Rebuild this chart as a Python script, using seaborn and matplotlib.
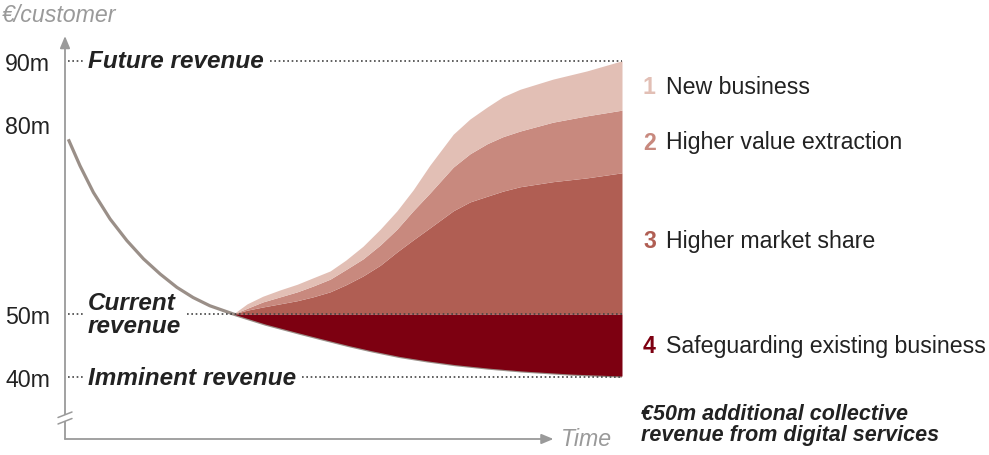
import numpy as np
import pandas as pd
import matplotlib
matplotlib.use("Agg")
import matplotlib.pyplot as plt
from matplotlib.lines import Line2D
from matplotlib.patches import Polygon
import seaborn as sns

# ---------------- data ----------------
# revenue per customer (m EUR) over time (0..100 arbitrary time units)
base_t = [0.6, 2.7, 5.1, 8.1, 11.1, 14.1, 17.1, 20.1, 23.0, 26.0, 30.2, 36, 42, 46, 51, 55, 60, 65, 70, 76, 82, 91, 100]
base_v = [77.6, 73.4, 69.2, 65.0, 61.6, 58.7, 56.3, 54.2, 52.6, 51.3, 50.0, 48.4, 47.0, 46.1, 45.0, 44.2,
          43.3, 42.6, 42.0, 41.45, 41.0, 40.5, 40.2]

# growth layers (cumulative tops, m EUR)
grow_t = [30.2, 32.7, 35.5, 38.6, 41.7, 44.5, 47.6, 50.4, 53.5, 56.6, 59.6, 62.5, 65.5, 69.7, 72.7,
          75.8, 78.6, 81.7, 87.6, 93.7, 100]
share_top = [50.0, 50.6, 51.1, 51.6, 52.1, 52.7, 53.5, 54.6, 56.0, 57.7, 59.8, 61.7, 63.6, 66.3, 67.7,
             68.6, 69.4, 70.1, 70.9, 71.5, 72.3]
value_top = [50.0, 50.9, 51.9, 52.7, 53.5, 54.4, 55.5, 57.0, 58.7, 60.9, 63.4, 66.3, 69.1, 73.2, 75.3,
             76.9, 78.0, 78.9, 80.3, 81.3, 82.2]
new_top = [50.0, 51.6, 52.8, 53.8, 54.7, 55.7, 56.8, 58.5, 60.7, 63.4, 66.3, 69.6, 73.5, 78.4, 80.8,
           82.7, 84.3, 85.5, 87.1, 88.4, 90.0]

current_revenue = 50
imminent_revenue = 40
future_revenue = 90

ytick_vals = [40, 50, 80, 90]
ytick_labels = ["40m", "50m", "80m", "90m"]

level_names = ["Future revenue", "Current\nrevenue", "Imminent revenue"]
level_vals = [future_revenue, current_revenue, imminent_revenue]

seg_nums = ["1", "2", "3", "4"]
seg_names = ["New business", "Higher value extraction", "Higher market share", "Safeguarding existing business"]

# ---------------- style ----------------
sns.set_theme(style="white")
plt.rcParams['font.family'] = ['Liberation Sans', 'DejaVu Sans']

C1, C2, C3, C4 = "#e2bfb5", "#c8897e", "#b05e53", "#7d0011"
seg_colors = [C1, C2, C3, C4]
CURVE = "#9a8f88"
AXIS = "#9a9a9a"
TXT = "#222222"

W, H = 989, 456
fig = plt.figure(figsize=(W / 100, H / 100), dpi=100)
ax = fig.add_axes([65 / W, 16 / H, 557 / W, 405 / H])
ax.set_xlim(0, 100)
ax.set_ylim(30.25, 94.23)
for s in ax.spines.values():
    s.set_visible(False)


def fx(px):
    return px / W


def fy(py):
    return 1 - py / H


# decay curve
df = pd.DataFrame({"t": base_t, "v": base_v})
sns.lineplot(data=df, x="t", y="v", ax=ax, color=CURVE, lw=2.3, zorder=1.5,
             solid_capstyle="butt", solid_joinstyle="round", sort=False)
ax.set_xlabel("")
ax.set_ylabel("")

# stacked layers
bt = np.array(base_t)
bv = np.array(base_v)
m = bt >= 30.2
ax.fill_between(bt[m], bv[m], current_revenue, color=C4, lw=0, zorder=2)
ax.fill_between(grow_t, current_revenue, share_top, color=C3, lw=0, zorder=2)
ax.fill_between(grow_t, share_top, value_top, color=C2, lw=0, zorder=2)
ax.fill_between(grow_t, value_top, new_top, color=C1, lw=0, zorder=2)

# level labels, then dotted reference lines around them
texts = []
for name, v in zip(level_names, level_vals):
    t = ax.text(4.1, v, name, fontsize=17.5, fontweight="bold", style="italic", color=TXT,
                va="center", ha="left", linespacing=0.95, zorder=4)
    texts.append(t)

fig.canvas.draw()
renderer = fig.canvas.get_renderer()
inv = ax.transData.inverted()
px_per_t = ax.transData.transform((1, 0))[0] - ax.transData.transform((0, 0))[0]
for t, v in zip(texts, level_vals):
    bb = t.get_window_extent(renderer)
    x0 = inv.transform((bb.x0, 0))[0] - 3 / px_per_t
    x1 = inv.transform((bb.x1, 0))[0] + 6 / px_per_t
    for a, b in [(0.5, x0), (x1, 100)]:
        ax.plot([a, b], [v, v], ls=(0, (1, 1.6)), color="#444444", lw=1.2, zorder=3)

# y ticks
ax.set_yticks(ytick_vals)
ax.set_yticklabels(ytick_labels, fontsize=16.7, color=TXT)
ax.set_xticks([])
ax.tick_params(axis="y", length=0, pad=10.8)
ax.grid(False)

# axes arrows
arrow = dict(arrowstyle="-|>,head_length=0.6,head_width=0.25", color=AXIS, lw=1.3,
             mutation_scale=12, shrinkA=0, shrinkB=0)
ax.annotate("", xy=(0, 0.995), xytext=(0, 0), xycoords="axes fraction",
            textcoords="axes fraction", arrowprops=arrow, annotation_clip=False)
ax.annotate("", xy=(0.877, 0), xytext=(0, 0), xycoords="axes fraction",
            textcoords="axes fraction", arrowprops=arrow, annotation_clip=False)

# axis break
brk = Polygon([(fx(58), fy(418.5)), (fx(72), fy(413)), (fx(72), fy(419.5)), (fx(58), fy(425))],
              closed=True, transform=fig.transFigure, fc="white", ec="none", zorder=5)
fig.patches.append(brk)
for (x0, y0, x1, y1) in [(58, 418.5, 72, 413), (58, 425, 72, 419.5)]:
    fig.lines.append(Line2D([fx(x0), fx(x1)], [fy(y0), fy(y1)], transform=fig.transFigure,
                            color=AXIS, lw=1.1, zorder=6))

# axis titles
fig.text(fx(2), fy(15), "€/customer", fontsize=16.7, style="italic", color=AXIS, va="center", ha="left")
fig.text(fx(561), fy(440), "Time", fontsize=16.7, style="italic", color=AXIS, va="center", ha="left")

# segment labels
seg_y = [87, 143, 242, 347]
for num, name, col, py in zip(seg_nums, seg_names, seg_colors, seg_y):
    fig.text(fx(643), fy(py), num, fontsize=16.7, fontweight="bold", color=col, va="center", ha="left")
    fig.text(fx(666), fy(py), name, fontsize=16.7, color=TXT, va="center", ha="left")

fig.text(fx(641), fy(425), "€50m additional collective\nrevenue from digital services",
         fontsize=15.5, fontweight="bold", style="italic", color=TXT, va="center", ha="left",
         linespacing=1.0)

fig.savefig("out.png", dpi=100)
